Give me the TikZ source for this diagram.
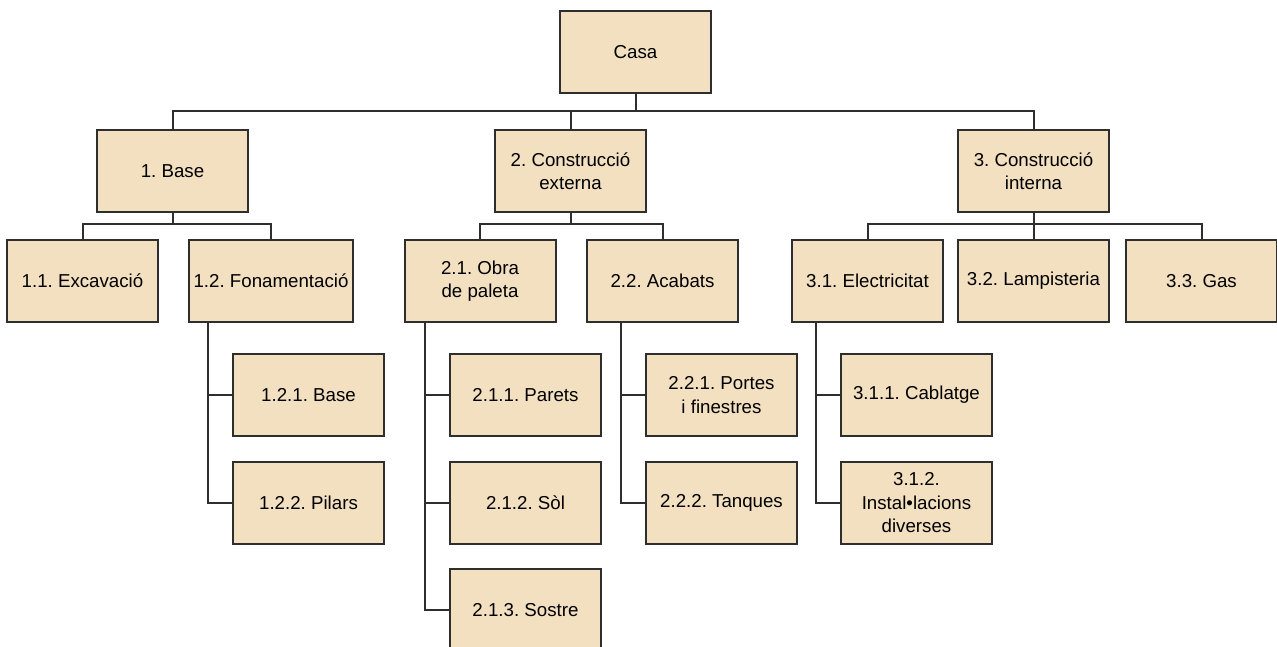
\documentclass[tikz,border=0pt]{standalone}
\usepackage{fontspec}
\setmainfont{Liberation Sans}
\usetikzlibrary{calc}
\definecolor{boxfill}{HTML}{F3E0C1}
\definecolor{ink}{HTML}{2E2E2E}
\frenchspacing
\begin{document}
\begin{tikzpicture}[x=1pt,y=-1pt,
  wbs/.style={draw=ink,line width=2pt,fill=boxfill,rectangle,
    minimum width=151pt,minimum height=82pt,inner sep=2pt,align=center,
    font=\fontsize{18.7}{23.5}\selectfont,text=black},
  link/.style={draw=ink,line width=2pt}]
\useasboundingbox (0,0) rectangle (1277,646);

% root
\node[wbs] (casa) at (635.5,52) {Casa};

% first level
\node[wbs] (b1) at (172.5,171) {1. Base};
\node[wbs] (b2) at (570.5,171) {2. Construcció\\externa};
\node[wbs] (b3) at (1033.5,171) {3. Construcció\\interna};

% second level
\node[wbs] (b11) at (82.5,281) {1.1. Excavació};
\node[wbs,minimum width=164pt] (b12) at (271,281) {1.2. Fonamentació};
\node[wbs] (b21) at (480,281) {2.1. Obra\\de paleta};
\node[wbs] (b22) at (662.5,281) {2.2. Acabats};
\node[wbs] (b31) at (867.5,281) {3.1. Electricitat};
\node[wbs] (b32) at (1033.5,281) {3.2. Lampisteria};
\node[wbs] (b33) at (1201.5,281) {3.3. Gas};

% third level
\node[wbs] (b121) at (308.5,395) {1.2.1. Base};
\node[wbs] (b122) at (308.5,503) {1.2.2. Pilars};
\node[wbs] (b211) at (525.5,395) {2.1.1. Parets};
\node[wbs] (b212) at (525.5,503) {2.1.2. Sòl};
\node[wbs] (b213) at (525.5,610) {2.1.3. Sostre};
\node[wbs] (b221) at (721.5,395) {2.2.1. Portes\\i finestres};
\node[wbs] (b222) at (721.5,503) {2.2.2. Tanques};
\node[wbs] (b311) at (916.5,395) {3.1.1. Cablatge};
\node[wbs] (b312) at (916.5,503) {3.1.2.\\Instal•lacions\\diverses};

% tree connectors
\foreach \c in {b1,b2,b3}
  \draw[link] (casa.south) -- ++(0,16.5) -| (\c.north);
\foreach \p/\c in {b1/b11,b1/b12,b2/b21,b2/b22,b3/b31,b3/b32,b3/b33}
  \draw[link] (\p.south) -- ++(0,11) -| (\c.north);

% side-hanging children
\foreach \p/\c in {b12/b121,b12/b122,b21/b211,b21/b212,b21/b213,
                   b22/b221,b22/b222,b31/b311,b31/b312}
  \draw[link] (\c.west) -| ($(\c.west |- \p.south)+(-24.5,0)$);
\end{tikzpicture}
\end{document}
